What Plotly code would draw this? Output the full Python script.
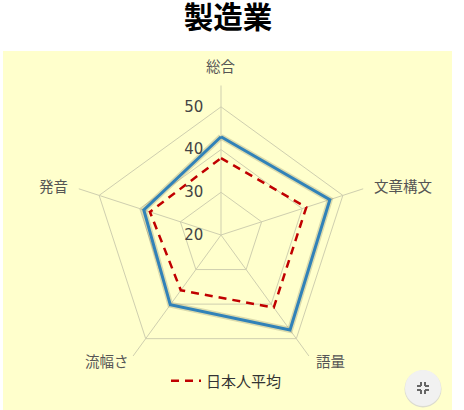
import plotly.graph_objects as go

# --- data ---
categories = ["総合", "文章構文", "語量", "流幅さ", "発音"]
industry = [43, 46.8, 47.5, 40.2, 39]
japan_avg = [38, 41, 41, 36, 37.5]
radial_ticks = [20, 30, 40, 50]

TITLE = "製造業"
LEGEND_NAME = "日本人平均"

BG = "#ffffcc"
GRID = "#cfcfaf"
BLUE = "#3182b8"
RED = "#c00000"
JP = "Noto Sans CJK JP"
W, H = 464, 410
# where the chart puts its category labels (px centres)
LABEL_POS = [(220.5, 65), (403, 186), (330, 360), (107, 360), (53, 186)]


def closed(vals):
    return list(vals) + [vals[0]]


def circle(cx, cy, r, fill):
    return dict(type="circle", xref="paper", yref="paper",
                x0=(cx - r) / W, x1=(cx + r) / W, y0=1 - (cy + r) / H, y1=1 - (cy - r) / H,
                fillcolor=fill, line_width=0, layer="above")


def seg(x0, y0, x1, y1):
    return dict(type="line", xref="paper", yref="paper",
                x0=x0 / W, x1=x1 / W, y0=1 - y0 / H, y1=1 - y1 / H,
                line=dict(color="#666666", width=2), layer="above")


fig = go.Figure()
theta = closed(categories)
# soft shadow under the blue line
fig.add_trace(go.Scatterpolar(r=closed(industry), theta=theta, mode="lines", showlegend=False,
                              line=dict(color="rgba(110,110,80,0.25)", width=6), hoverinfo="skip"))
fig.add_trace(go.Scatterpolar(r=closed(industry), theta=theta, mode="lines", showlegend=False,
                              line=dict(color=BLUE, width=3), hoverinfo="skip"))
fig.add_trace(go.Scatterpolar(r=closed(japan_avg), theta=theta, mode="lines", name=LEGEND_NAME,
                              line=dict(color=RED, width=2.5, dash="8px,6px"), hoverinfo="skip"))

# pale panel and the fullscreen button
shapes = [dict(type="rect", xref="paper", yref="paper", x0=3 / W, x1=452 / W, y0=0, y1=1 - 51 / H,
               fillcolor=BG, line_width=0, layer="below"),
          circle(423, 389, 18.5, "#dcdcd0"),
          circle(423, 388, 18, "#f1f1f1")]
for sx, sy in [(-1, -1), (1, -1), (-1, 1), (1, 1)]:
    shapes.append(seg(423 + sx * 2, 388 + sy * 2, 423 + sx * 6, 388 + sy * 2))
    shapes.append(seg(423 + sx * 2, 388 + sy * 2, 423 + sx * 2, 388 + sy * 6))

# plotly's own angular labels sit too low at the bottom vertices, so place them by hand
labels = [dict(text=c, x=px / W, y=1 - py / H, xref="paper", yref="paper", showarrow=False,
               xanchor="center", yanchor="middle", font=dict(size=14.5, color="#555555", family=JP))
          for c, (px, py) in zip(categories, LABEL_POS)]

fig.update_layout(
    width=W, height=H, margin=dict(l=0, r=0, t=0, b=0),
    paper_bgcolor="white", shapes=shapes, annotations=labels,
    title=dict(text=f"<b>{TITLE}</b>", x=228 / W, xanchor="center", y=1 - 17.5 / H, yanchor="middle",
               font=dict(size=29.5, color="black", family=JP)),
    polar=dict(
        bgcolor="rgba(0,0,0,0)", gridshape="linear",
        domain=dict(x=[71.5 / W, 370.5 / W], y=[1 - 384.5 / H, 1 - 85.5 / H]),
        radialaxis=dict(range=[20, 55], tickvals=radial_ticks, angle=90, tickangle=90,
                        side="counterclockwise", showline=False, gridcolor=GRID, gridwidth=1.2,
                        ticks="outside", ticklen=12, tickcolor="rgba(0,0,0,0)",
                        tickfont=dict(size=15, color="#444444", family="DejaVu Sans")),
        angularaxis=dict(direction="clockwise", rotation=90, showline=False, gridcolor=GRID,
                         gridwidth=1.2, ticks="", showticklabels=False),
    ),
    legend=dict(x=166 / W, y=1 - 381 / H, xanchor="left", yanchor="middle", bgcolor="rgba(0,0,0,0)",
                itemwidth=30, font=dict(size=15, color="#333333", family=JP)),
    showlegend=True,
)
fig.write_html("out.html", config={"displayModeBar": False},
               post_script="document.body.style.margin='0';document.body.style.overflow='hidden';")
